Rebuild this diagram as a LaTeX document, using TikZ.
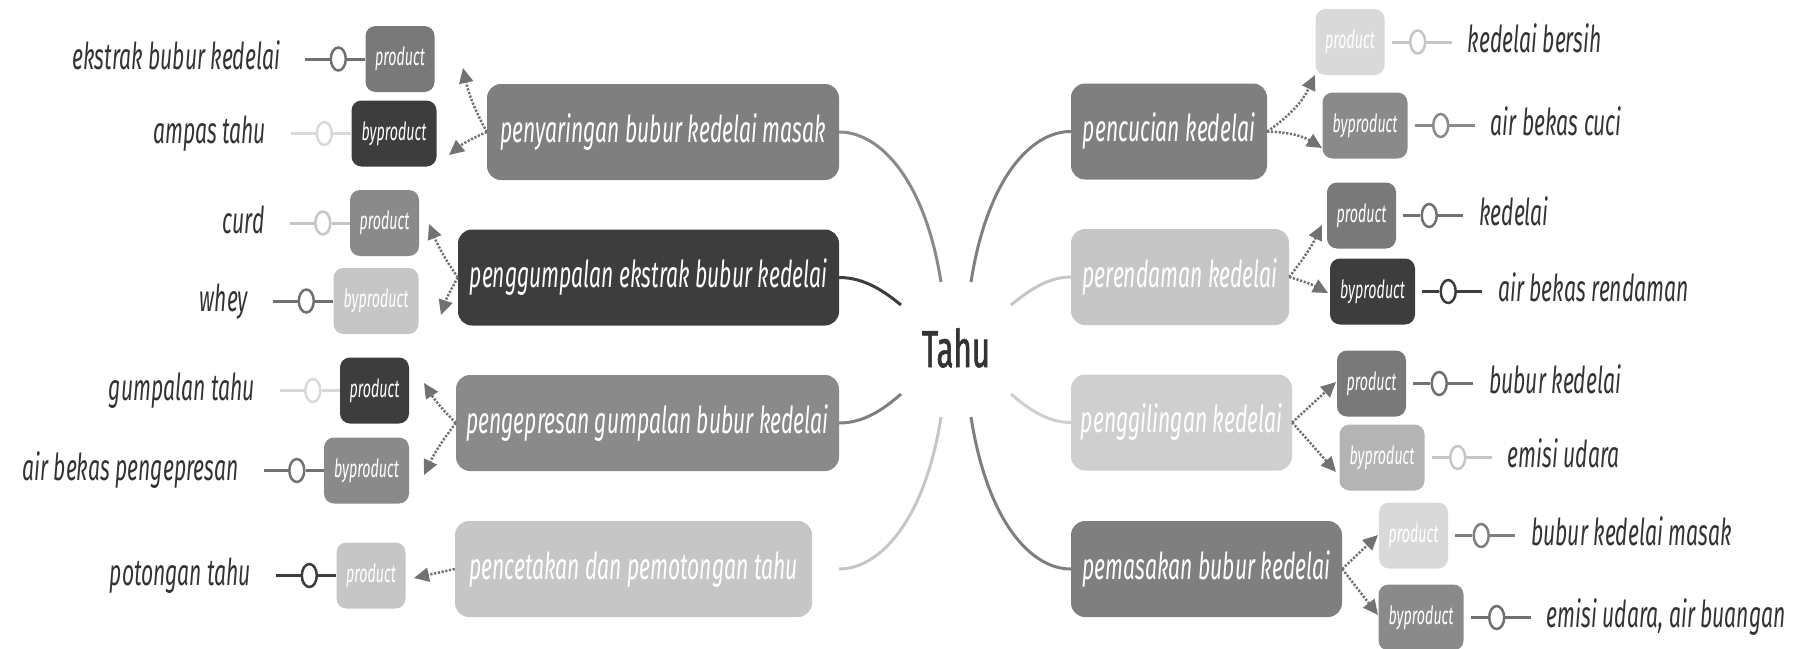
\documentclass[tikz,border=0pt]{standalone}
\usepackage{fontspec}
\usetikzlibrary{arrows.meta,shapes.geometric}
\newfontfamily\handfont{Fira Sans}[FakeStretch=0.57]
\newfontfamily\tahufont{Fira Sans}[FakeStretch=0.6, FakeBold=1.2]
\definecolor{kDark}{HTML}{3D3D3D}
\definecolor{kMid}{HTML}{7F7F7F}
\definecolor{kMidB}{HTML}{8A8A8A}
\definecolor{kLight}{HTML}{C6C6C6}
\definecolor{kPale}{HTML}{D9D9D9}
\definecolor{kSoft}{HTML}{B4B4B4}
\definecolor{kLine}{HTML}{707070}
\definecolor{kArrow}{HTML}{727272}
\definecolor{kText}{HTML}{333333}
\tikzset{
  mainbox/.style={rounded corners=14pt, minimum height=96pt, inner sep=0pt,
    text=white, text height=29pt, text depth=9pt,
    font=\handfont\itshape\fontsize{37}{42}\selectfont},
  prodbox/.style={rounded corners=10pt, minimum height=66pt, minimum width=69pt,
    inner sep=0pt, text=white, text height=19pt, text depth=6pt,
    font=\handfont\itshape\fontsize{25}{28}\selectfont},
  byprodbox/.style={prodbox, minimum width=85pt},
  leaftext/.style={text=kText, inner sep=0pt,
    font=\handfont\itshape\fontsize{37}{42}\selectfont},
  stem/.style={line width=3pt},
  ring/.style={ellipse, fill=white, line width=2.5pt, minimum width=15pt,
    minimum height=23pt, inner sep=0pt},
  branch/.style={line width=3pt},
  darrow/.style={draw=kArrow, line width=2.5pt, dash pattern=on 2.2pt off 1.6pt,
    -{Triangle[length=15pt,width=14pt]}},
}
\newcommand\leafLeft[3]{%
  \node[ring, draw=#2] (#1r) at ([xshift=-27pt]#1.west) {};
  \coordinate (#1e) at ([xshift=-60pt]#1.west);
  \draw[stem, draw=#2] (#1.west) -- (#1r) -- (#1e);
  \node[leaftext, anchor=base east, yshift=-10pt] (#1t) at ([xshift=-25pt]#1e) {#3};}
\newcommand\leafRight[3]{%
  \coordinate (#1s) at ([xshift=7pt]#1.east);
  \node[ring, draw=#2] (#1r) at ([xshift=33pt]#1.east) {};
  \coordinate (#1e) at ([xshift=67pt]#1.east);
  \draw[stem, draw=#2] (#1s) -- (#1r) -- (#1e);
  \node[leaftext, anchor=base west, yshift=-10pt] (#1t) at ([xshift=16pt]#1e) {#3};}
\begin{document}
\begin{tikzpicture}[x=1pt, y=-1pt]
\useasboundingbox (0,0) rectangle (1809,648);

% centre
\node[text=kText, font=\tahufont\fontsize{52}{58}\selectfont, anchor=base, inner sep=0pt]
  (tahu) at (956,367) {Tahu};
\coordinate (cL1) at (941,282);
\coordinate (cL2) at (901,305);
\coordinate (cL3) at (901,394);
\coordinate (cL4) at (941,417);
\coordinate (cR1) at (971,282);
\coordinate (cR2) at (1011,305);
\coordinate (cR3) at (1011,394);
\coordinate (cR4) at (971,417);

% main boxes
\node[mainbox, fill=kMid, minimum width=352pt] (L1) at (663,132) {penyaringan bubur kedelai masak};
\node[mainbox, fill=kDark, minimum width=381pt] (L2) at (648.5,277.5) {penggumpalan ekstrak bubur kedelai};
\node[mainbox, fill=kMidB, minimum width=383pt] (L3) at (647.5,423) {pengepresan gumpalan bubur kedelai};
\node[mainbox, fill=kLight, minimum width=357pt] (L4) at (633.5,569) {pencetakan dan pemotongan tahu};
\node[mainbox, fill=kMid, minimum width=196pt] (R1) at (1169,131.5) {pencucian kedelai};
\node[mainbox, fill=kLight, minimum width=218pt] (R2) at (1180,277) {perendaman kedelai};
\node[mainbox, fill=kLight!85!white, minimum width=221pt] (R3) at (1181.5,422.5) {penggilingan kedelai};
\node[mainbox, fill=kMid, minimum width=271pt] (R4) at (1206.5,569) {pemasakan bubur kedelai};

% branches from centre
\draw[branch, draw=kMidB] (cL1) .. controls (925,180) and (880,132) .. (L1.east);
\draw[branch, draw=kDark] (cL2) .. controls (885,292) and (865,277.5) .. (L2.east);
\draw[branch, draw=kMid] (cL3) .. controls (885,408) and (865,423) .. (L3.east);
\coordinate (L4x) at (839,569);
\draw[branch, draw=kLight] (cL4) .. controls (925,520) and (880,569) .. (L4x);
\draw[branch, draw=kMid] (cR1) .. controls (987,180) and (1030,131.5) .. (R1.west);
\draw[branch, draw=kLight] (cR2) .. controls (1027,292) and (1047,277) .. (R2.west);
\draw[branch, draw=kLight!85!white] (cR3) .. controls (1027,408) and (1047,422.5) .. (R3.west);
\draw[branch, draw=kMid] (cR4) .. controls (987,520) and (1030,569) .. (R4.west);

% product / byproduct boxes
\node[prodbox, fill=kMid!95!black] (P1) at (400,59) {product};
\node[byprodbox, fill=kDark] (B1) at (394,133.5) {byproduct};
\node[prodbox, fill=kMidB] (P2) at (384.5,223) {product};
\node[byprodbox, fill=kLight] (B2) at (376,301) {byproduct};
\node[prodbox, fill=kDark] (P3) at (374.5,390.5) {product};
\node[byprodbox, fill=kMidB] (B3) at (366.5,470.5) {byproduct};
\node[prodbox, fill=kLight] (P4) at (371,575.5) {product};
\node[prodbox, fill=kPale] (P5) at (1350,42) {product};
\node[byprodbox, fill=kMidB] (B5) at (1365,125.5) {byproduct};
\node[prodbox, fill=kMid!95!black] (P6) at (1361.5,215.5) {product};
\node[byprodbox, fill=kDark] (B6) at (1372.5,291.5) {byproduct};
\node[prodbox, fill=kMid!95!black] (P7) at (1371.5,383.5) {product};
\node[byprodbox, fill=kSoft] (B7) at (1382,457.5) {byproduct};
\node[prodbox, fill=kPale] (P8) at (1413.5,535.5) {product};
\node[byprodbox, fill=kMidB] (B8) at (1421,617.5) {byproduct};

% dotted arrows
\coordinate (tP1) at (463,68);   \coordinate (tB1) at (449,155);
\coordinate (tP2) at (429,224);  \coordinate (tB2) at (441,315);
\coordinate (tP3) at (424,383);  \coordinate (tB3) at (424,475);
\coordinate (tP4) at (414,578);
\coordinate (tP5) at (1315,75);  \coordinate (tB5) at (1322,148);
\coordinate (tP6) at (1322,225); \coordinate (tB6) at (1328,293);
\coordinate (tP7) at (1336,382); \coordinate (tB7) at (1336,472);
\coordinate (tP8) at (1378,535); \coordinate (tB8) at (1378,615);
\draw[darrow] (L1.west) to[bend left=8] (tP1);
\draw[darrow] (L1.west) to[bend right=8] (tB1);
\draw[darrow] (L2.west) to[bend left=6] (tP2);
\draw[darrow] (L2.west) to[bend right=6] (tB2);
\draw[darrow] (L3.west) to[bend left=6] (tP3);
\draw[darrow] (L3.west) to[bend right=6] (tB3);
\draw[darrow] (L4.west) -- (tP4);
\draw[darrow] (R1.east) to[bend right=15] (tP5);
\draw[darrow] (R1.east) to[bend left=15] (tB5);
\draw[darrow] (R2.east) to[bend right=6] (tP6);
\draw[darrow] (R2.east) to[bend left=6] (tB6);
\draw[darrow] (R3.east) -- (tP7);
\draw[darrow] (R3.east) -- (tB7);
\draw[darrow] (R4.east) -- (tP8);
\draw[darrow] (R4.east) -- (tB8);

% leaves
\leafLeft{P1}{kLine}{ekstrak bubur kedelai}
\leafLeft{B1}{kPale}{ampas tahu}
\leafLeft{P2}{kLight}{curd}
\leafLeft{B2}{kLine}{whey}
\leafLeft{P3}{kPale}{gumpalan tahu}
\leafLeft{B3}{kArrow}{air bekas pengepresan}
\leafLeft{P4}{kDark}{potongan tahu}
\leafRight{P5}{kLight}{kedelai bersih}
\leafRight{B5}{kMidB}{air bekas cuci}
\leafRight{P6}{kLine}{kedelai}
\leafRight{B6}{kDark}{air bekas rendaman}
\leafRight{P7}{kLine}{bubur kedelai}
\leafRight{B7}{kLight}{emisi udara}
\leafRight{P8}{kMid}{bubur kedelai masak}
\leafRight{B8}{kLine}{emisi udara, air buangan}
\end{tikzpicture}
\end{document}
